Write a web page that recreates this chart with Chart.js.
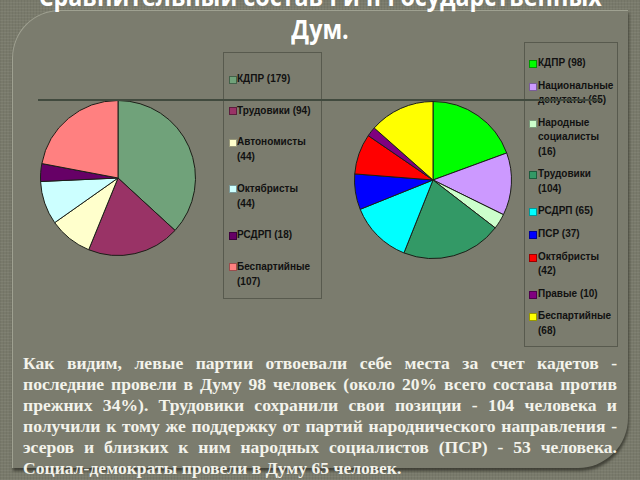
<!DOCTYPE html>
<html lang="ru">
<head>
<meta charset="utf-8">
<title>Сравнительный состав I и II Государственных Дум</title>
<script src="https://cdn.jsdelivr.net/npm/chart.js@4.4.0/dist/chart.umd.min.js"></script>
<style>
  html, body { margin: 0; padding: 0; }
  body {
    width: 640px; height: 480px; overflow: hidden; position: relative;
    background-color: #797a6b;
    background-image:
      repeating-linear-gradient(0deg, rgba(255,255,255,0.05) 0 1px, transparent 1px 3px),
      repeating-linear-gradient(90deg, rgba(0,0,0,0.05) 0 1px, transparent 1px 3px);
  }
  #panel {
    position: absolute; left: 12px; top: 10px; width: 615px; height: 457px;
    background: #7b7c6e;
    border-top: 1px solid rgba(190,192,175,0.55);
    border-left: 1px solid rgba(190,192,175,0.55);
    border-top-left-radius: 48px;
    border-bottom-right-radius: 50px;
    box-shadow: 1px 3px 3px rgba(45,46,38,0.75);
  }
  #title {
    position: absolute; left: 0; top: -20px; width: 640px;
    text-align: center; color: #ffffff;
    font: bold 26px "Open Sans", sans-serif; line-height: 33px;
  }
  #title span { display: inline-block; white-space: nowrap; transform-origin: 50% 50%; }
  .pie { position: absolute; }
  #rule {
    position: absolute; left: 38px; top: 99px; width: 562px; height: 2px;
    background: #414a3e; z-index: 5;
  }
  .legend {
    position: absolute; box-sizing: border-box;
    border: 1px solid #585a4e;
    font: bold 10px "Liberation Sans", Arial, sans-serif; color: #111;
  }
  .legend ul { list-style: none; margin: 0; padding: 0; }
  .legend li { position: relative; }
  .legend .sw {
    position: absolute; width: 6px; height: 6px; top: 0;
  }
  #legend1 { left: 223px; top: 52px; width: 99px; height: 247px; padding: 18px 0 0 13px; }
  #legend1 li { line-height: 15px; margin-bottom: 16.5px; }
  #legend1 .sw { left: -8px; top: 4.5px; }
  #legend2 { left: 524px; top: 42px; width: 94px; height: 305px; padding: 13px 0 0 13px; }
  #legend2 li { line-height: 14.5px; margin-bottom: 8.1px; }
  #legend2 .sw { left: -9px; top: 4px; }
  #text {
    position: absolute; left: 23px; top: 353px; width: 594px;
    font: bold 17.6px "Liberation Serif", "Times New Roman", serif;
    line-height: 21px; color: #f3f3eb;
  }
  #text div { text-align: justify; text-align-last: justify; white-space: nowrap; }
  #text div.last { text-align: left; text-align-last: left; }
</style>
</head>
<body>
<div id="panel"></div>
<div id="title"><span>Сравнительный состав I и II Государственных</span><br><span>Дум.</span></div>

<canvas id="pie1" class="pie" width="156" height="156" style="left:40px;top:100px;width:156px;height:156px"></canvas>
<canvas id="pie2" class="pie" width="158" height="158" style="left:354px;top:101px;width:158px;height:158px"></canvas>
<div id="rule"></div>
<div id="legend1" class="legend"></div>
<div id="legend2" class="legend"></div>

<div id="text">
  <div>Как видим, левые партии отвоевали себе места за счет кадетов -</div>
  <div>последние провели в Думу 98 человек (около 20% всего состава против</div>
  <div>прежних 34%). Трудовики сохранили свои позиции - 104 человека и</div>
  <div>получили к тому же поддержку от партий народнического направления -</div>
  <div>эсеров и близких к ним народных социалистов (ПСР) - 53 человека.</div>
  <div class="last">Социал-демократы провели в Думу 65 человек.</div>
</div>

<script>
// I Дума
const parties1 = ["КДПР (179)", "Трудовики (94)", "Автономисты\n(44)", "Октябристы\n(44)", "РСДРП (18)", "Беспартийные\n(107)"];
const seats1 = [179, 94, 44, 44, 18, 107];
const colors1 = ["#70a27a", "#993366", "#ffffcc", "#ccffff", "#660066", "#ff8080"];

// II Дума
const parties2 = ["КДПР (98)", "Национальные\nдепутаты (65)", "Народные\nсоциалисты\n(16)", "Трудовики\n(104)", "РСДРП (65)", "ПСР (37)", "Октябристы\n(42)", "Правые (10)", "Беспартийные\n(68)"];
const seats2 = [98, 65, 16, 104, 65, 37, 42, 10, 68];
const colors2 = ["#00ff00", "#cc99ff", "#ccffcc", "#339966", "#00ffff", "#0000ff", "#ff0000", "#800080", "#ffff00"];

// legend in html, boxes are plain divs
const htmlLegend = {
  id: "htmlLegend",
  afterUpdate(chart, args, opts) {
    const box = document.getElementById(opts.containerID);
    box.innerHTML = "";
    const ul = document.createElement("ul");
    const items = chart.options.plugins.legend.labels.generateLabels(chart);
    items.forEach(item => {
      const li = document.createElement("li");
      const sw = document.createElement("span");
      sw.className = "sw";
      sw.style.background = item.fillStyle;
      sw.style.border = "0.5px solid rgba(0,0,0,0.4)";
      li.appendChild(sw);
      item.text.split("\n").forEach((line, i) => {
        if (i > 0) li.appendChild(document.createElement("br"));
        li.appendChild(document.createTextNode(line));
      });
      ul.appendChild(li);
    });
    box.appendChild(ul);
  }
};

function makePie(id, labels, values, colors, legendId) {
  return new Chart(document.getElementById(id), {
    type: "pie",
    data: {
      labels: labels,
      datasets: [{
        data: values,
        backgroundColor: colors,
        borderColor: "#1c1f18",
        borderWidth: 1,
        hoverOffset: 0
      }]
    },
    options: {
      responsive: false,
      animation: false,
      layout: { padding: 0 },
      plugins: {
        legend: { display: false },
        tooltip: { enabled: false },
        htmlLegend: { containerID: legendId }
      }
    },
    plugins: [htmlLegend]
  });
}

makePie("pie1", parties1, seats1, colors1, "legend1");
makePie("pie2", parties2, seats2, colors2, "legend2");

// squeeze the title to the width it has on the slide
const titleLines = document.querySelectorAll("#title span");
const w0 = titleLines[0].getBoundingClientRect().width;
const k = 563 / w0;
titleLines.forEach(s => { s.style.transform = "scaleX(" + k + ")"; });
</script>
</body>
</html>
